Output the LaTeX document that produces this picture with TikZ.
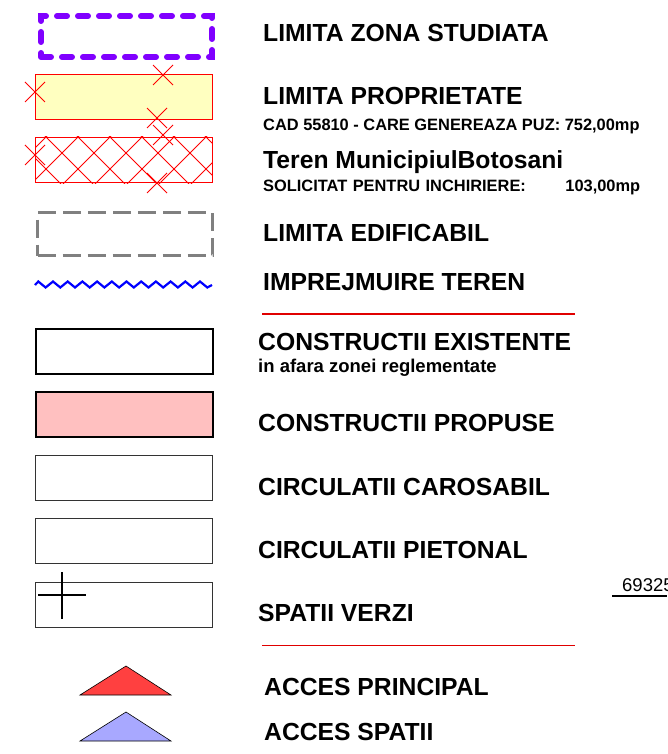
\documentclass[tikz,border=0pt]{standalone}
\usepackage{fontspec}
\setmainfont{Liberation Sans}
\usetikzlibrary{positioning}

\definecolor{zonaviolet}{HTML}{8000FF}
\definecolor{propgalben}{HTML}{FFFFC0}
\definecolor{proproz}{HTML}{FFC0C0}
\definecolor{accesrosu}{HTML}{FF4040}
\definecolor{accesalbastru}{HTML}{A8A8FF}
\definecolor{separosu}{HTML}{E00000}

\tikzset{
  legbox/.style={draw, anchor=north west, minimum width=177pt, minimum height=45pt, inner sep=0pt},
  legtxt/.style={anchor=base west, inner sep=0pt, font=\fontsize{24.7}{28}\selectfont\bfseries},
  subtxt/.style={anchor=base west, inner sep=0pt, font=\fontsize{16.4}{19}\selectfont\bfseries},
  sepline/.style={draw=separosu, line width=1.2pt},
  xmk/.pic={\draw[red, line width=0.8pt] (-10,-10) -- (10,10) (-10,10) -- (10,-10);}
}

\begin{document}
\begin{tikzpicture}[x=1pt, y=-1pt]
	\useasboundingbox (0,0) rectangle (667,754);
	
	% limita zona studiata
	\node[legbox, minimum width=171pt, minimum height=41pt, draw=zonaviolet, line width=6pt, line cap=round, dash pattern=on 10pt off 11pt] (zona) at (38,13) {};
	\node[legtxt] (tzona) at (263,42) {LIMITA ZONA STUDIATA};
	
	% limita proprietate
	\node[legbox, draw=red, fill=propgalben, line width=0.9pt] (prop) at (35,74) {};
	\pic at (163,75) {xmk};
	\pic at (35,92) {xmk};
	\pic at (157,118) {xmk};
	\node[legtxt] (tprop) at (263,105) {LIMITA PROPRIETATE};
	\node[subtxt] (tcad) at (263,131) {CAD 55810 - CARE GENEREAZA PUZ: 752,00mp};
	
	% teren municipiu, hasurat
	\begin{scope}
		\clip (35,137) rectangle (212,183);
		\foreach \k in {-3,...,8}
			\draw[red, line width=0.9pt] ({46+32*\k-60},77) -- ({46+32*\k+60},197)
				({46+32*\k+60},77) -- ({46+32*\k-60},197);
	\end{scope}
	\node[legbox, draw=red, line width=1.2pt] (teren) at (35,137) {};
	\pic at (163,135) {xmk};
	\pic at (35,155) {xmk};
	\pic at (157,183) {xmk};
	\node[legtxt] (tteren) at (263,168) {Teren MunicipiulBotosani};
	\node[subtxt, text width=377pt, align=left] (tsolic) at (263,191) {SOLICITAT PENTRU INCHIRIERE:\hfill103,00mp};
	
	% limita edificabil
	\node[legbox, minimum width=175pt, minimum height=43pt, draw=gray, line width=3pt, dash pattern=on 18pt off 7pt] (edif) at (36,211) {};
	\node[legtxt] (tedif) at (263,241) {LIMITA EDIFICABIL};
	
	% imprejmuire
	\coordinate (imp0) at (35,285);
	\draw[blue, line width=2.2pt] (imp0) \foreach \i in {0,...,11} { -- ({38.3+14.7*\i},281.5) -- ({45.6+14.7*\i},287.5)} -- (212,285);
	\node[legtxt] (timp) at (263,290) {IMPREJMUIRE TEREN};
	
	\coordinate (sep1a) at (262,314);
	\coordinate (sep1b) at (575,314);
	\path[sepline] (sep1a) -- (sep1b);
	
	% constructii
	\node[legbox, line width=2pt] (exist) at (35,328) {};
	\node[legtxt] (texist) at (258,350) {CONSTRUCTII EXISTENTE};
	\node[subtxt, font=\fontsize{18.5}{21}\selectfont\bfseries] (tafara) at (258,372) {in afara zonei reglementate};
	
	\node[legbox, line width=2pt, fill=proproz] (propuse) at (35,391) {};
	\node[legtxt] (tpropuse) at (258,431) {CONSTRUCTII PROPUSE};
	
	% circulatii
	\node[legbox, draw=black!80, line width=1pt] (caros) at (35,455) {};
	\node[legtxt] (tcaros) at (258,495) {CIRCULATII CAROSABIL};
	
	\node[legbox, draw=black!80, line width=1pt] (pieton) at (35,518) {};
	\node[legtxt] (tpieton) at (258,558) {CIRCULATII PIETONAL};
	
	% spatii verzi
	\node[legbox, draw=black!80, line width=1pt] (verzi) at (35,582) {};
	\draw[line width=2.5pt] (38,595) -- (86,595) (62,572) -- (62,619);
	\node[legtxt] (tverzi) at (258,621) {SPATII VERZI};
	
	\coordinate (sep2a) at (262,645.5);
	\coordinate (sep2b) at (575,645.5);
	\path[sepline] (sep2a) -- (sep2b);
	
	% accese
	\draw[fill=accesrosu, line width=0.6pt] (80,695) -- (126,666) -- (171,695) -- cycle;
	\node[legtxt] (tprinc) at (264,695) {ACCES PRINCIPAL};
	\draw[fill=accesalbastru, line width=0.6pt] (80,741) -- (126,712) -- (171,741) -- cycle;
	\node[legtxt] (tspatii) at (264,740) {ACCES SPATII};
	
	% cota
	\node[anchor=base west, inner sep=0pt, font=\fontsize{18.5}{22}\selectfont] (cota) at (622,591) {69325};
	\coordinate (cotaA) at (612,596);
	\coordinate (cotaB) at (667,596);
	\draw[line width=1.5pt] (cotaA) -- (cotaB);
\end{tikzpicture}
\end{document}
